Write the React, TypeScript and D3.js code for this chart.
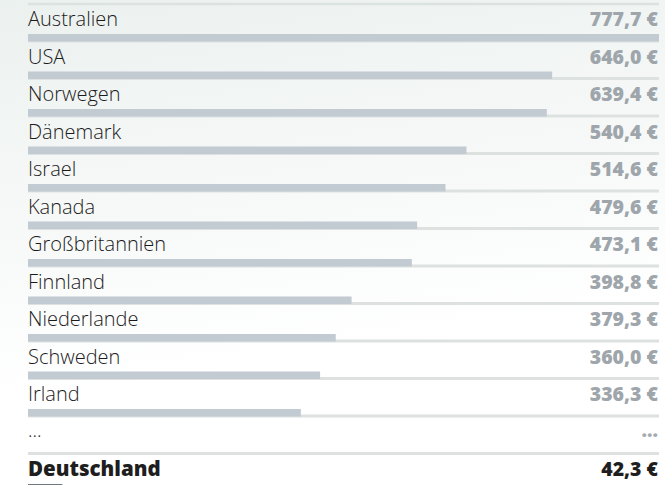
import * as d3 from "d3";
import { useEffect } from "react";

const countries = [
  "Australien",
  "USA",
  "Norwegen",
  "Dänemark",
  "Israel",
  "Kanada",
  "Großbritannien",
  "Finnland",
  "Niederlande",
  "Schweden",
  "Irland",
];
const values = [777.7, 646.0, 639.4, 540.4, 514.6, 479.6, 473.1, 398.8, 379.3, 360.0, 336.3];
const highlightName = "Deutschland";
const highlightValue = 42.3;
const gapLabel = "...";

const W = 665;
const H = 485;

const de = d3.formatLocale({ decimal: ",", thousands: ".", grouping: [3], currency: ["", " €"] });
const fmt = (v: number) => `${de.format(".1f")(v)} €`;

export default function App() {
  useEffect(() => {
    document.body.style.margin = "0";
  }, []);

  const rowKeys = [...countries, gapLabel, highlightName];
  const y = d3.scaleBand<string>().domain(rowKeys).range([4, 4 + rowKeys.length * 37.5]).padding(0);
  const x = d3.scaleLinear().domain([0, d3.max(values) as number]).range([28, 659]);
  const left = x(0);
  const right = x.range()[1];

  const rowEnd = (k: string) => (y(k) as number) + y.bandwidth();
  const labelFont = "'Open Sans', Lato, sans-serif";
  const valueFont = "'Open Sans', sans-serif";

  return (
    <svg width={W} height={H} style={{ display: "block" }}>
      <defs>
        <linearGradient id="bg" x1="0" y1="0" x2="0.2" y2="1">
          <stop offset="0" stopColor="#ebf1ef" />
          <stop offset="0.35" stopColor="#f4f7f6" />
          <stop offset="0.8" stopColor="#ffffff" />
        </linearGradient>
      </defs>
      <rect width={W} height={H} fill="url(#bg)" />
      <line x1={left} x2={right} y1={4} y2={4} stroke="#dce2e0" strokeWidth={2.5} />
      {countries.map((c, i) => {
        const e = rowEnd(c);
        return (
          <g key={c}>
            <line x1={left} x2={right} y1={e - 0.5} y2={e - 0.5} stroke="#dde2e1" strokeWidth={3} />
            <rect x={left} y={e - 7.5} width={x(values[i]) - left} height={7.5} fill="#c2cad2" />
            <text x={left} y={e - 15.5} fontFamily={labelFont} fontWeight={300} fontSize={20} fill="#1c1c1c">
              {c}
            </text>
            <text
              x={right - 1}
              y={e - 15.5}
              textAnchor="end"
              fontFamily={valueFont}
              fontWeight={800}
              fontSize={19.5}
              fill="#9ea6ac"
            >
              {fmt(values[i])}
            </text>
          </g>
        );
      })}
      <line
        x1={left}
        x2={right}
        y1={rowEnd(gapLabel) - 0.5}
        y2={rowEnd(gapLabel) - 0.5}
        stroke="#dde2e1"
        strokeWidth={3}
      />
      <text x={left} y={rowEnd(gapLabel) - 17} fontFamily={labelFont} fontWeight={300} fontSize={19} fill="#1c1c1c">
        {gapLabel}
      </text>
      <text
        x={right - 1}
        y={rowEnd(gapLabel) - 17}
        textAnchor="end"
        fontFamily={valueFont}
        fontWeight={800}
        fontSize={19}
        fill="#a3abb1"
      >
        {gapLabel}
      </text>
      <rect
        x={left}
        y={rowEnd(highlightName) - 7.5}
        width={x(highlightValue) - left}
        height={7.5}
        fill="#6f7880"
      />
      <text
        x={left}
        y={rowEnd(highlightName) - 15.5}
        fontFamily={valueFont}
        fontWeight={800}
        fontSize={20.5}
        fill="#1e1e1e"
      >
        {highlightName}
      </text>
      <text
        x={right - 1}
        y={rowEnd(highlightName) - 15.5}
        textAnchor="end"
        fontFamily={valueFont}
        fontWeight={800}
        fontSize={19.5}
        fill="#1e1e1e"
      >
        {fmt(highlightValue)}
      </text>
    </svg>
  );
}
